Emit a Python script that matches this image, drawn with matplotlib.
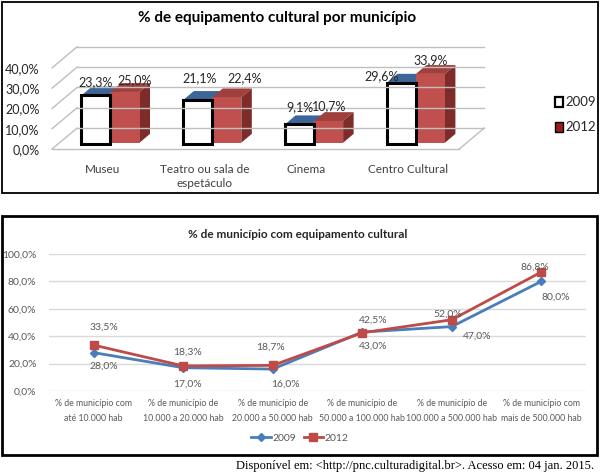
import matplotlib
matplotlib.use("Agg")
import matplotlib.pyplot as plt
from matplotlib.patches import Polygon, Rectangle

plt.rcParams['font.family'] = ['Lato', 'DejaVu Sans']

# dados - grafico de barras (equipamento por municipio)
equip = ["Museu", "Teatro ou sala de\nespetáculo", "Cinema", "Centro Cultural"]
equip_2009 = [23.3, 21.1, 9.1, 29.6]
equip_2012 = [25.0, 22.4, 10.7, 33.9]
top_ticks = [0, 10, 20, 30, 40]
anos = ["2009", "2012"]

# dados - grafico de linhas (porte do municipio)
faixas = ["% de município com\naté 10.000 hab",
          "% de município de\n10.000 a 20.000 hab",
          "% de município de\n20.000 a 50.000 hab",
          "% de município de\n50.000 a 100.000 hab",
          "% de município de\n100.000 a 500.000 hab",
          "% de município com\nmais de 500.000 hab"]
mun_2009 = [28.0, 17.0, 16.0, 43.0, 47.0, 80.0]
mun_2012 = [33.5, 18.3, 18.7, 42.5, 52.0, 86.8]
bottom_ticks = [0, 20, 40, 60, 80, 100]


def pct(v):
    return f"{v:.1f}%".replace(".", ",")


W, H = 601, 476
fig = plt.figure(figsize=(W / 100, H / 100), dpi=100)


def box(x0, y0, x1, y1):
    return [x0 / W, 1 - y1 / H, (x1 - x0) / W, (y1 - y0) / H]


# molduras
fig.add_artist(Rectangle((2 / W, 1 - 193 / H), 596 / W, 191 / H, transform=fig.transFigure,
                         fill=False, edgecolor='black', lw=1.3))
fig.add_artist(Rectangle((2 / W, 1 - 455 / H), 595 / W, 239 / H, transform=fig.transFigure,
                         fill=False, edgecolor='black', lw=2))

# ---------- grafico de cima (barras "3D") ----------
ax = fig.add_axes(box(45, 40, 500, 149))
ax.set_xlim(-0.5697, 3.8998)
ax.set_ylim(0, 53.7)
ax.set_frame_on(False)

DX, DY = 0.2456, 10.34   # profundidade da parede
Z0, Z1 = 0.3, 0.72       # profundidade das barras
w = 0.285
grid_c = '#BFBFBF'

for v in top_ticks:
    ax.plot([-0.5, -0.5 + DX], [v, v + DY], color=grid_c, lw=1, clip_on=False)
    ax.plot([-0.5 + DX, 3.5 + DX], [v + DY, v + DY], color=grid_c, lw=1, clip_on=False)
ax.plot([-0.5, 3.5], [0, 0], color=grid_c, lw=1, clip_on=False)
ax.plot([3.5, 3.5 + DX], [0, DY], color=grid_c, lw=1, clip_on=False)


def bar3d(xl, h, front, top, side, draw_front=True):
    fx = xl + Z0 * DX
    bx = xl + Z1 * DX
    fy, by = Z0 * DY, Z1 * DY
    ax.add_patch(Polygon([(fx, fy + h), (fx + w, fy + h), (bx + w, by + h), (bx, by + h)],
                         facecolor=top, edgecolor='none', clip_on=False))
    ax.add_patch(Polygon([(fx + w, fy), (bx + w, by), (bx + w, by + h), (fx + w, fy + h)],
                         facecolor=side, edgecolor='none', clip_on=False))
    if draw_front:
        ax.add_patch(Rectangle((fx, fy), w, h, facecolor=front, edgecolor='none', clip_on=False))
    return fx + w / 2, fy + h


off_2009 = [(-0.5, -13), (1.5, -22), (0, -17), (-20, -6)]
off_2012 = [(9.5, -12), (17.5, -19), (0.5, -15), (0, -14)]

for i, (a, b) in enumerate(zip(equip_2009, equip_2012)):
    cx_a, top_a = bar3d(i - w, a, '#4F81BD', '#3C6699', '#2F5280', draw_front=False)
    cx_b, top_b = bar3d(i, b, '#C0504D', '#A0403C', '#7E2C2A')
    ax.add_patch(Rectangle((i - w + Z0 * DX, Z0 * DY - 0.8), w, a + 0.8, facecolor='white',
                           edgecolor='black', lw=2.2, clip_on=False))
    ax.annotate(pct(a), (cx_a, top_a), xytext=(off_2009[i][0], -off_2009[i][1]),
                textcoords='offset pixels', ha='center', va='center', fontsize=9, color='#262626')
    ax.annotate(pct(b), (cx_b, top_b), xytext=(off_2012[i][0], -off_2012[i][1]),
                textcoords='offset pixels', ha='center', va='center', fontsize=9, color='#262626')

ax.set_yticks(top_ticks, [pct(v) for v in top_ticks], fontsize=9, color='#262626')
ax.set_xticks(range(len(equip)), equip, fontsize=8.5, color='#404040', linespacing=1.35)
ax.tick_params(length=0)
ax.tick_params(axis='y', pad=4)
ax.tick_params(axis='x', pad=11)

fig.text(277 / W, 1 - 18 / H, "% de equipamento cultural por município", ha='center',
         va='center', fontsize=11, fontweight='bold')

# legenda do grafico de cima
leg_faces = ['white', '#9B1C1C']
leg_lw = [1.6, 1.0]
for k, ano in enumerate(anos):
    yc = 102 + 25 * k
    fig.add_artist(Rectangle((555 / W, 1 - (yc + 5) / H), 8 / W, 10 / H,
                             transform=fig.transFigure, facecolor=leg_faces[k],
                             edgecolor='black', lw=leg_lw[k]))
    fig.text(565 / W, 1 - yc / H, ano, ha='left', va='center', fontsize=9.5, color='#262626')

# ---------- grafico de baixo (linhas) ----------
bx_ = fig.add_axes(box(49, 254, 586, 391))
x = list(range(len(faixas)))
bx_.set_xlim(-0.5, 5.5)
bx_.set_ylim(0, 100)
for s in bx_.spines.values():
    s.set_visible(False)
bx_.set_yticks(bottom_ticks, [pct(v) for v in bottom_ticks], fontsize=7.5, color='#595959')
bx_.set_xticks(x, faixas, fontsize=6.3, color='#595959', linespacing=1.8)
bx_.tick_params(length=0)
bx_.tick_params(axis='y', pad=9)
bx_.tick_params(axis='x', pad=6)
bx_.yaxis.grid(True, color='#D9D9D9', lw=1)
bx_.set_axisbelow(True)

bx_.plot(x, mun_2009, color='#4A7EBB', lw=2, marker='D', ms=4.2, label=anos[0], clip_on=False)
bx_.plot(x, mun_2012, color='#BE4B48', lw=2, marker='s', ms=5.6, label=anos[1], clip_on=False)

lab_2012 = [(10, -18), (4.5, -14), (-2, -18), (11, -13), (-4, -6), (-6, -5)]
lab_2009 = [(10, 14), (4.5, 16), (13, 15), (11, 14), (25, 10), (14, 16)]
for i in x:
    bx_.annotate(pct(mun_2012[i]), (i, mun_2012[i]), xytext=(lab_2012[i][0], -lab_2012[i][1]),
                 textcoords='offset pixels', ha='center', va='center', fontsize=7.5, color='#595959')
    bx_.annotate(pct(mun_2009[i]), (i, mun_2009[i]), xytext=(lab_2009[i][0], -lab_2009[i][1]),
                 textcoords='offset pixels', ha='center', va='center', fontsize=7.5, color='#595959')

fig.text(298 / W, 1 - 235 / H, "% de município com equipamento cultural", ha='center',
         va='center', fontsize=8.5, fontweight='bold', color='#262626')

fig.legend(*bx_.get_legend_handles_labels(), loc='center', bbox_to_anchor=(300 / W, 1 - 438 / H),
           ncol=2, frameon=False, fontsize=7.5, handlelength=1.9, columnspacing=0.7,
           handletextpad=0.15, borderpad=0, labelcolor='#595959')

fig.text(594 / W, 1 - 466 / H,
         "Disponível em: <http://pnc.culturadigital.br>. Acesso em: 04 jan. 2015.",
         ha='right', va='center', fontsize=9, family='Liberation Serif')

fig.savefig("out.png", dpi=100)
